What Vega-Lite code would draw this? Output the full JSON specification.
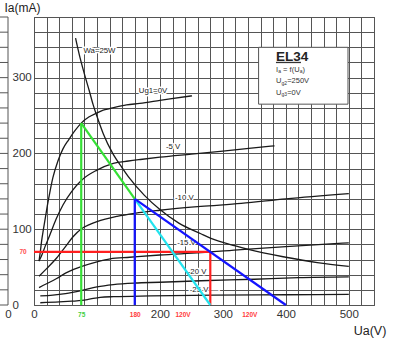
{
  "$schema": "https://vega.github.io/schema/vega-lite/v6.json",
  "width": 340,
  "height": 288,
  "autosize": {"type": "none"},
  "padding": {"left": 34, "top": 17, "right": 26, "bottom": 36},
  "background": "white",
  "config": {
    "view": {"stroke": "#444", "strokeWidth": 1},
    "font": "Liberation Sans"
  },
  "datasets": {
    "strip": [
      {"u0": -1, "u1": 0, "i": 0}, {"u0": -1, "u1": 0, "i": 20}, {"u0": -1, "u1": 0, "i": 40},
      {"u0": -1, "u1": 0, "i": 60}, {"u0": -1, "u1": 0, "i": 80}, {"u0": -1, "u1": 0, "i": 100},
      {"u0": -1, "u1": 0, "i": 120}, {"u0": -1, "u1": 0, "i": 140}, {"u0": -1, "u1": 0, "i": 160},
      {"u0": -1, "u1": 0, "i": 180}, {"u0": -1, "u1": 0, "i": 200}, {"u0": -1, "u1": 0, "i": 220},
      {"u0": -1, "u1": 0, "i": 240}, {"u0": -1, "u1": 0, "i": 260}, {"u0": -1, "u1": 0, "i": 280},
      {"u0": -1, "u1": 0, "i": 300}, {"u0": -1, "u1": 0, "i": 320}, {"u0": -1, "u1": 0, "i": 340},
      {"u0": -1, "u1": 0, "i": 360}, {"u0": -1, "u1": 0, "i": 380}
    ],
    "curves": [
      {"s": "Wa", "v": 66, "i": 352}, {"s": "Wa", "v": 72, "i": 330}, {"s": "Wa", "v": 80, "i": 305},
      {"s": "Wa", "v": 88, "i": 282}, {"s": "Wa", "v": 94, "i": 264}, {"s": "Wa", "v": 100, "i": 249},
      {"s": "Wa", "v": 110, "i": 226}, {"s": "Wa", "v": 125, "i": 200}, {"s": "Wa", "v": 140, "i": 181},
      {"s": "Wa", "v": 152, "i": 167}, {"s": "Wa", "v": 175, "i": 145}, {"s": "Wa", "v": 200, "i": 126},
      {"s": "Wa", "v": 230, "i": 108}, {"s": "Wa", "v": 265, "i": 94}, {"s": "Wa", "v": 281, "i": 88},
      {"s": "Wa", "v": 320, "i": 78}, {"s": "Wa", "v": 342, "i": 73}, {"s": "Wa", "v": 400, "i": 63},
      {"s": "Wa", "v": 450, "i": 56}, {"s": "Wa", "v": 500, "i": 51},

      {"s": "g0", "v": 8, "i": 58}, {"s": "g0", "v": 10, "i": 70}, {"s": "g0", "v": 12, "i": 84},
      {"s": "g0", "v": 15, "i": 100}, {"s": "g0", "v": 17, "i": 110}, {"s": "g0", "v": 21, "i": 130},
      {"s": "g0", "v": 25, "i": 148}, {"s": "g0", "v": 30, "i": 168}, {"s": "g0", "v": 38, "i": 190},
      {"s": "g0", "v": 46, "i": 206}, {"s": "g0", "v": 55, "i": 218}, {"s": "g0", "v": 65, "i": 230},
      {"s": "g0", "v": 75, "i": 240}, {"s": "g0", "v": 87, "i": 248}, {"s": "g0", "v": 99, "i": 253},
      {"s": "g0", "v": 110, "i": 257}, {"s": "g0", "v": 120, "i": 259}, {"s": "g0", "v": 147, "i": 264},
      {"s": "g0", "v": 168, "i": 266}, {"s": "g0", "v": 200, "i": 270}, {"s": "g0", "v": 216, "i": 272},
      {"s": "g0", "v": 251, "i": 276},

      {"s": "g5", "v": 8, "i": 58}, {"s": "g5", "v": 12, "i": 65}, {"s": "g5", "v": 18, "i": 78},
      {"s": "g5", "v": 25, "i": 92}, {"s": "g5", "v": 35, "i": 113}, {"s": "g5", "v": 46, "i": 132},
      {"s": "g5", "v": 60, "i": 150}, {"s": "g5", "v": 76, "i": 165}, {"s": "g5", "v": 100, "i": 178},
      {"s": "g5", "v": 126, "i": 187}, {"s": "g5", "v": 150, "i": 190}, {"s": "g5", "v": 169, "i": 192},
      {"s": "g5", "v": 200, "i": 195}, {"s": "g5", "v": 250, "i": 199}, {"s": "g5", "v": 300, "i": 203},
      {"s": "g5", "v": 345, "i": 207}, {"s": "g5", "v": 382, "i": 210},

      {"s": "g10", "v": 8, "i": 38}, {"s": "g10", "v": 20, "i": 48}, {"s": "g10", "v": 36, "i": 62},
      {"s": "g10", "v": 50, "i": 77}, {"s": "g10", "v": 62, "i": 90}, {"s": "g10", "v": 76, "i": 101},
      {"s": "g10", "v": 88, "i": 106}, {"s": "g10", "v": 100, "i": 110}, {"s": "g10", "v": 132, "i": 117},
      {"s": "g10", "v": 160, "i": 121}, {"s": "g10", "v": 200, "i": 125}, {"s": "g10", "v": 265, "i": 130},
      {"s": "g10", "v": 329, "i": 134}, {"s": "g10", "v": 400, "i": 140}, {"s": "g10", "v": 500, "i": 147},

      {"s": "g15", "v": 8, "i": 23}, {"s": "g15", "v": 20, "i": 28}, {"s": "g15", "v": 36, "i": 35},
      {"s": "g15", "v": 50, "i": 42}, {"s": "g15", "v": 63, "i": 47}, {"s": "g15", "v": 76, "i": 51},
      {"s": "g15", "v": 100, "i": 57}, {"s": "g15", "v": 121, "i": 61}, {"s": "g15", "v": 152, "i": 63},
      {"s": "g15", "v": 200, "i": 66}, {"s": "g15", "v": 265, "i": 69}, {"s": "g15", "v": 329, "i": 73},
      {"s": "g15", "v": 400, "i": 77}, {"s": "g15", "v": 500, "i": 82},

      {"s": "g20", "v": 10, "i": 12}, {"s": "g20", "v": 30, "i": 13}, {"s": "g20", "v": 50, "i": 15},
      {"s": "g20", "v": 75, "i": 19}, {"s": "g20", "v": 100, "i": 24}, {"s": "g20", "v": 126, "i": 27},
      {"s": "g20", "v": 160, "i": 29}, {"s": "g20", "v": 200, "i": 30}, {"s": "g20", "v": 265, "i": 32},
      {"s": "g20", "v": 350, "i": 34}, {"s": "g20", "v": 420, "i": 36}, {"s": "g20", "v": 500, "i": 37},

      {"s": "g25", "v": 10, "i": 3}, {"s": "g25", "v": 40, "i": 4}, {"s": "g25", "v": 60, "i": 5},
      {"s": "g25", "v": 76, "i": 6}, {"s": "g25", "v": 90, "i": 8}, {"s": "g25", "v": 105, "i": 10},
      {"s": "g25", "v": 126, "i": 11}, {"s": "g25", "v": 185, "i": 12}, {"s": "g25", "v": 286, "i": 13},
      {"s": "g25", "v": 400, "i": 13.5}, {"s": "g25", "v": 500, "i": 14}
    ],
    "labels": [
      {"t": "Wa=25W", "v": 104, "i": 334.5},
      {"t": "Ug1=0V", "v": 189, "i": 283},
      {"t": "-5 V", "v": 221, "i": 208.5},
      {"t": "-10 V", "v": 238.7, "i": 141.4},
      {"t": "-15 V", "v": 242.2, "i": 81.8},
      {"t": "-20 V", "v": 258.9, "i": 43.5},
      {"t": "-25 V \u2014", "v": 270, "i": 20.4}
    ],
    "load": [
      {"seg": "rh", "c": "red", "v": 0, "i": 70}, {"seg": "rh", "c": "red", "v": 280, "i": 70},
      {"seg": "rv", "c": "red", "v": 280, "i": 70}, {"seg": "rv", "c": "red", "v": 280, "i": 0},
      {"seg": "gv", "c": "green", "v": 75, "i": 0}, {"seg": "gv", "c": "green", "v": 75, "i": 240},
      {"seg": "gd", "c": "green", "v": 75, "i": 240}, {"seg": "gd", "c": "green", "v": 160, "i": 140},
      {"seg": "cd", "c": "cyan", "v": 160, "i": 140}, {"seg": "cd", "c": "cyan", "v": 280, "i": 0},
      {"seg": "bv", "c": "blue", "v": 160, "i": 0}, {"seg": "bv", "c": "blue", "v": 160, "i": 140},
      {"seg": "bd", "c": "blue", "v": 160, "i": 140}, {"seg": "bd", "c": "blue", "v": 400, "i": 0}
    ],
    "box": [
      {"v": 356.7, "v2": 498.7, "i": 265, "i2": 340}
    ],
    "underline": [
      {"v": 384.3, "v2": 424, "i": 320}
    ],
    "boxText": [
      {"t": "EL34", "v": 384.3, "i": 322.5, "r": "title"},
      {"t": "I", "v": 384.3, "i": 308, "r": "body"},
      {"t": "a", "v": 387.9, "i": 305.6, "r": "sub"},
      {"t": "= f(U", "v": 395.6, "i": 308, "r": "body"},
      {"t": "a", "v": 422, "i": 305.6, "r": "sub"},
      {"t": ")", "v": 426.4, "i": 308, "r": "body"},
      {"t": "U", "v": 384.3, "i": 292.9, "r": "body"},
      {"t": "g2", "v": 393.1, "i": 290.5, "r": "sub"},
      {"t": "=250V", "v": 402.1, "i": 292.9, "r": "body"},
      {"t": "U", "v": 384.3, "i": 277.7, "r": "body"},
      {"t": "g3", "v": 393.1, "i": 275.3, "r": "sub"},
      {"t": "=0V", "v": 402.1, "i": 277.7, "r": "body"}
    ]
  },
  "resolve": {"scale": {"x": "independent"}},
  "encoding": {
    "y": {
      "field": "i", "type": "quantitative",
      "scale": {"domain": [0, 380], "nice": false},
      "axis": {
        "values": [0, 20, 40, 60, 70, 80, 100, 120, 140, 160, 180, 200, 220, 240, 260, 280, 300, 320, 340, 360, 380],
        "labelExpr": "(datum.value==0||datum.value==70||datum.value==100||datum.value==200||datum.value==300) ? datum.label : ''",
        "grid": true, "gridColor": "#555", "gridWidth": 1,
        "gridOpacity": {"condition": {"test": "datum.value==70", "value": 0}, "value": 1},
        "ticks": false, "tickSize": 0, "domain": false,
        "labelOverlap": false, "labelFlush": false,
        "labelAlign": "left", "labelBaseline": "middle", "labelFont": "Liberation Sans",
        "labelPadding": {"condition": {"test": "datum.value==70", "value": 15}, "value": 22},
        "labelColor": {"condition": {"test": "datum.value==70", "value": "#ff4d4d"}, "value": "#333"},
        "labelFontSize": {"condition": {"test": "datum.value==70", "value": 6.5}, "value": 11.5},
        "labelFontWeight": {"condition": {"test": "datum.value==70", "value": "bold"}, "value": "normal"},
        "title": "Ia(mA)", "titleX": -12, "titleY": -10, "titleAngle": 0,
        "titleAlign": "center", "titleBaseline": "middle", "titleFont": "Liberation Sans",
        "titleFontSize": 12, "titleFontWeight": "normal", "titleColor": "#222"
      }
    }
  },
  "layer": [
    {
      "encoding": {
        "x": {
          "field": "v", "type": "quantitative",
          "scale": {"domain": [0, 540], "nice": false, "zero": false},
          "axis": {
            "orient": "bottom",
            "values": [0, 20, 40, 60, 75, 80, 100, 120, 140, 160, 180, 200, 220, 236, 240, 260, 280, 300, 320, 340, 342, 360, 380, 400, 420, 440, 460, 480, 500, 520, 540],
            "labelExpr": "(datum.value==0||datum.value==200||datum.value==300||datum.value==400||datum.value==500) ? datum.label : datum.value==75 ? '75' : datum.value==160 ? '180' : (datum.value==236||datum.value==342) ? '120V' : ''",
            "grid": true, "gridColor": "#555", "gridWidth": 1,
            "gridOpacity": {"condition": {"test": "datum.value==75||datum.value==236||datum.value==342", "value": 0}, "value": 1},
            "ticks": false, "tickSize": 0, "domain": false,
            "labelOverlap": false, "labelFlush": false,
            "labelPadding": 9, "labelBaseline": "middle", "labelFont": "Liberation Sans",
            "labelColor": {"condition": [
              {"test": "datum.value==75", "value": "#3fcf3f"},
              {"test": "datum.value==160||datum.value==236||datum.value==342", "value": "#ff3b3b"}
            ], "value": "#333"},
            "labelFontSize": {"condition": {"test": "datum.value==75||datum.value==160||datum.value==236||datum.value==342", "value": 6.5}, "value": 11.5},
            "labelFontWeight": {"condition": {"test": "datum.value==75||datum.value==160||datum.value==236||datum.value==342", "value": "bold"}, "value": "normal"},
            "title": "Ua(V)", "titleX": 335.5, "titleY": 25, "titleAngle": 0,
            "titleAlign": "center", "titleBaseline": "middle", "titleFont": "Liberation Sans",
            "titleFontSize": 12.5, "titleFontWeight": "normal", "titleColor": "#222"
          }
        }
      },
      "layer": [
        {
          "data": {"name": "curves"},
          "mark": {"type": "line", "color": "#1a1a1a", "strokeWidth": 1.3, "interpolate": "monotone"},
          "encoding": {"detail": {"field": "s"}}
        },
        {
          "data": {"name": "labels"},
          "mark": {"type": "text", "font": "Liberation Sans", "fontSize": 7.8, "align": "center", "baseline": "middle", "fill": "white", "stroke": "white", "strokeWidth": 3, "strokeJoin": "round"},
          "encoding": {"text": {"field": "t"}}
        },
        {
          "data": {"name": "labels"},
          "mark": {"type": "text", "font": "Liberation Sans", "fontSize": 7.8, "align": "center", "baseline": "middle", "color": "#1a1a1a"},
          "encoding": {"text": {"field": "t"}}
        },
        {
          "data": {"name": "load"},
          "transform": [{"filter": "datum.c == 'red'"}],
          "mark": {"type": "line", "color": "#ff1f1f", "strokeWidth": 2.2},
          "encoding": {"detail": {"field": "seg"}}
        },
        {
          "data": {"name": "load"},
          "transform": [{"filter": "datum.c == 'green'"}],
          "mark": {"type": "line", "color": "#35e035", "strokeWidth": 2.2},
          "encoding": {"detail": {"field": "seg"}}
        },
        {
          "data": {"name": "load"},
          "transform": [{"filter": "datum.c == 'cyan'"}],
          "mark": {"type": "line", "color": "#22e3ee", "strokeWidth": 2.2},
          "encoding": {"detail": {"field": "seg"}}
        },
        {
          "data": {"name": "load"},
          "transform": [{"filter": "datum.c == 'blue'"}],
          "mark": {"type": "line", "color": "#1414ff", "strokeWidth": 2.2},
          "encoding": {"detail": {"field": "seg"}}
        },
        {
          "data": {"name": "box"},
          "mark": {"type": "rect", "fill": "white", "stroke": "#555", "strokeWidth": 1},
          "encoding": {"x2": {"field": "v2"}, "y2": {"field": "i2"}}
        },
        {
          "data": {"name": "underline"},
          "mark": {"type": "rule", "color": "#333", "strokeWidth": 1.3},
          "encoding": {"x2": {"field": "v2"}}
        },
        {
          "data": {"name": "boxText"},
          "transform": [{"filter": "datum.r == 'title'"}],
          "mark": {"type": "text", "font": "Liberation Sans", "fontWeight": "bold", "fontSize": 13.5, "align": "left", "baseline": "alphabetic", "color": "#222"},
          "encoding": {"text": {"field": "t"}}
        },
        {
          "data": {"name": "boxText"},
          "transform": [{"filter": "datum.r == 'body'"}],
          "mark": {"type": "text", "font": "Liberation Sans", "fontSize": 7.5, "align": "left", "baseline": "alphabetic", "color": "#333"},
          "encoding": {"text": {"field": "t"}}
        },
        {
          "data": {"name": "boxText"},
          "transform": [{"filter": "datum.r == 'sub'"}],
          "mark": {"type": "text", "font": "Liberation Sans", "fontSize": 5, "align": "left", "baseline": "alphabetic", "color": "#333"},
          "encoding": {"text": {"field": "t"}}
        }
      ]
    },
    {
      "layer": [
        {
          "data": {"name": "strip"},
          "mark": {"type": "rule", "color": "#555", "strokeWidth": 1},
          "encoding": {
            "x": {
              "field": "u0", "type": "quantitative",
              "scale": {"domain": [-1, 0], "range": [-34, -26], "nice": false, "zero": false},
              "axis": {
                "orient": "bottom", "values": [0], "labelExpr": "'0'", "title": null, "grid": false, "ticks": false,
                "domain": false, "labelPadding": 9, "labelBaseline": "middle", "labelFlush": false,
                "labelFontSize": 11.5, "labelColor": "#333", "labelFont": "Liberation Sans"
              }
            },
            "x2": {"field": "u1"}
          }
        },
        {
          "data": {"values": [{"u": 0, "i": 0, "i2": 380}]},
          "mark": {"type": "rule", "color": "#555", "strokeWidth": 1},
          "encoding": {
            "x": {"field": "u", "type": "quantitative"},
            "y2": {"field": "i2"}
          }
        }
      ]
    }
  ]
}
